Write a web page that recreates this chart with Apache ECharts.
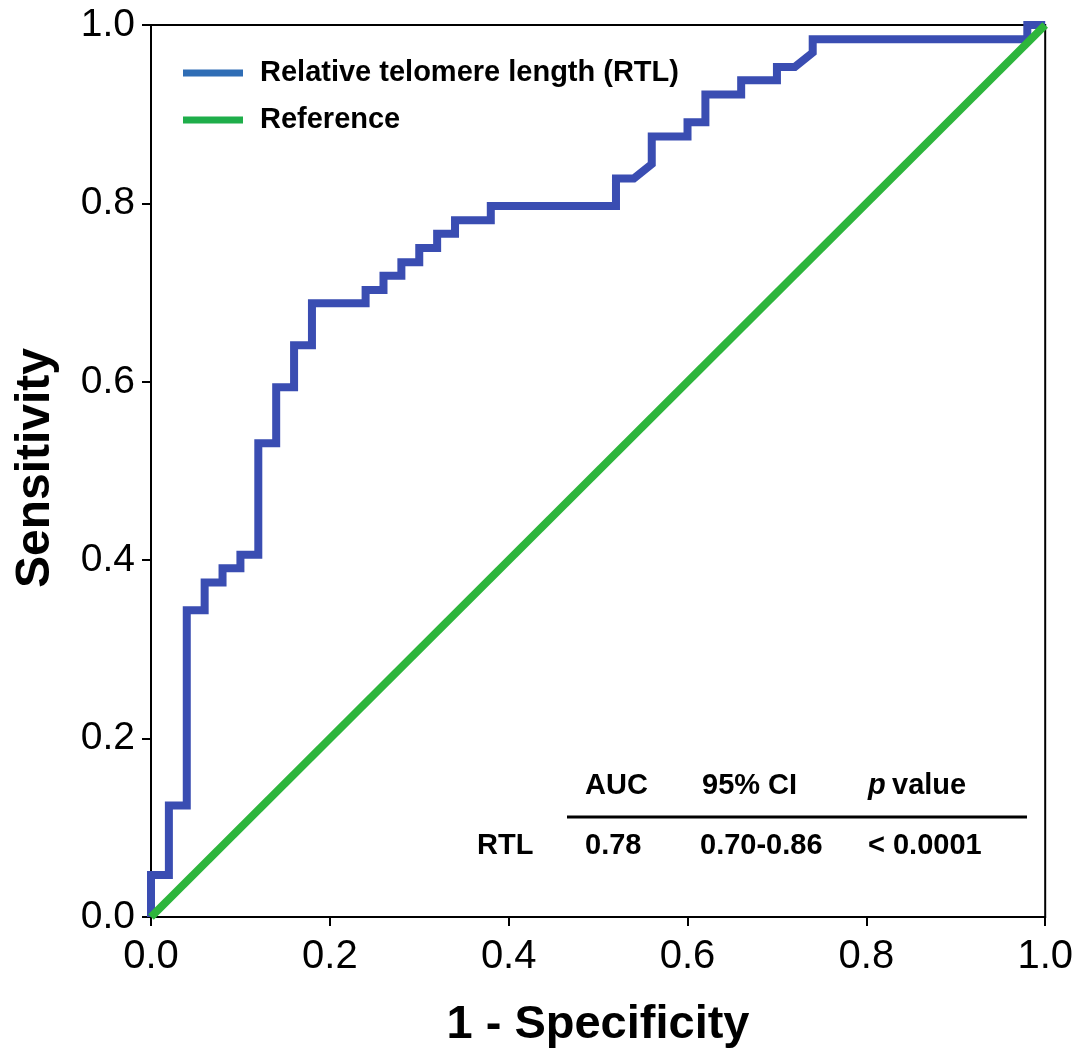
<!DOCTYPE html>
<html>
<head>
<meta charset="utf-8">
<script src="https://cdn.jsdelivr.net/npm/echarts@6/dist/echarts.min.js"></script>
<style>html,body{margin:0;padding:0;background:#fff}#c{width:1076px;height:1051px}</style>
</head>
<body>
<div id="c"></div>
<script>
// ROC curve: 1 - specificity (x) and sensitivity (y)
var rtlFpr = [0, 0, 0.02, 0.02, 0.04, 0.04, 0.06, 0.06, 0.08, 0.08, 0.10, 0.10, 0.12, 0.12, 0.14, 0.14, 0.16, 0.16, 0.18, 0.18, 0.24, 0.24, 0.26, 0.26, 0.28, 0.28, 0.30, 0.30, 0.32, 0.32, 0.34, 0.34, 0.38, 0.38, 0.52, 0.52, 0.54, 0.56, 0.56, 0.60, 0.60, 0.62, 0.62, 0.66, 0.66, 0.70, 0.70, 0.72, 0.74, 0.74, 0.98, 0.98, 1.0];
var rtlTpr = [0, 0.047, 0.047, 0.125, 0.125, 0.344, 0.344, 0.375, 0.375, 0.391, 0.391, 0.406, 0.406, 0.531, 0.531, 0.594, 0.594, 0.641, 0.641, 0.688, 0.688, 0.703, 0.703, 0.719, 0.719, 0.734, 0.734, 0.750, 0.750, 0.766, 0.766, 0.781, 0.781, 0.797, 0.797, 0.828, 0.828, 0.844, 0.875, 0.875, 0.891, 0.891, 0.922, 0.922, 0.938, 0.938, 0.953, 0.953, 0.969, 0.984, 0.984, 1.0, 1.0];
var refX = [0, 1];
var refY = [0, 1];
var xTicks = [0, 0.2, 0.4, 0.6, 0.8, 1.0];
var seriesNames = ['Relative telomere length (RTL)', 'Reference'];
var tableHeader = ['AUC', '95% CI', 'value'];
var tableRow = ['RTL', '0.78', '0.70-0.86', '< 0.0001'];

var FONT = 'Liberation Sans, Arial, sans-serif';
var chart = echarts.init(document.getElementById('c'));

function pairs(xs, ys) { return xs.map(function (x, i) { return [x, ys[i]]; }); }

var txtStyle = function (t, x, y, extra) {
  var s = { text: t, x: x, y: y, fill: '#000', font: 'bold 29px ' + FONT, textVerticalAlign: 'middle' };
  for (var k in extra) s[k] = extra[k];
  return { type: 'text', style: s, z: 10 };
};

chart.setOption({
  animation: false,
  backgroundColor: '#fff',
  grid: { left: 151, right: 30, top: 25, bottom: 134, show: true, borderColor: '#000', borderWidth: 2, backgroundColor: 'transparent' },
  legend: {
    left: 178, top: 53, orient: 'vertical', itemWidth: 60, itemHeight: 7, itemGap: 17,
    icon: 'rect',
    textStyle: { fontFamily: FONT, fontWeight: 'bold', fontSize: 29, color: '#000', lineHeight: 30, padding: [0, 0, 0, 12] },
    data: [
      { name: seriesNames[0], itemStyle: { color: '#2f6db5' } },
      { name: seriesNames[1], itemStyle: { color: '#1fae4a' } }
    ]
  },
  xAxis: {
    type: 'value', min: 0, max: 1, interval: 0.2,
    axisLine: { show: true, lineStyle: { color: '#000', width: 2 } },
    axisTick: { show: true, length: 9, lineStyle: { color: '#000', width: 2 } },
    splitLine: { show: false },
    axisLabel: { fontFamily: FONT, fontSize: 40, color: '#000', margin: 20, formatter: function (v) { return v.toFixed(1); } }
  },
  yAxis: {
    type: 'value', min: 0, max: 1, interval: 0.2,
    axisLine: { show: true, lineStyle: { color: '#000', width: 2 } },
    axisTick: { show: true, length: 9, lineStyle: { color: '#000', width: 2 } },
    splitLine: { show: false },
    axisLabel: { fontFamily: FONT, fontSize: 39, color: '#000', margin: 16, formatter: function (v) { return v.toFixed(1); } }
  },
  series: [
    {
      name: seriesNames[0], type: 'line', data: pairs(rtlFpr, rtlTpr), showSymbol: false, symbol: 'none', clip: false,
      lineStyle: { color: '#3a4db2', width: 8, join: 'miter' }, itemStyle: { color: '#2f6db5' }, z: 3
    },
    {
      name: seriesNames[1], type: 'line', data: pairs(refX, refY), showSymbol: false, symbol: 'none', clip: false,
      lineStyle: { color: '#2db53c', width: 8 }, itemStyle: { color: '#1fae4a' }, z: 4
    }
  ],
  graphic: [
    { type: 'text', x: 36, y: 468, rotation: Math.PI / 2, z: 10,
      style: { text: 'Sensitivity', font: 'bold 48px ' + FONT, fill: '#000', textAlign: 'center', textVerticalAlign: 'middle' } },
    { type: 'text', x: 598, y: 1025, z: 10,
      style: { text: '1 - Specificity', font: 'bold 47px ' + FONT, fill: '#000', textAlign: 'center', textVerticalAlign: 'middle' } },
    txtStyle(tableHeader[0], 585, 786),
    txtStyle(tableHeader[1], 702, 786),
    txtStyle('p', 868, 786, { font: 'bold italic 29px ' + FONT }),
    txtStyle(tableHeader[2], 892, 786),
    { type: 'line', shape: { x1: 567, y1: 817, x2: 1027, y2: 817 }, style: { stroke: '#000', lineWidth: 3 }, z: 10 },
    txtStyle(tableRow[0], 477, 846),
    txtStyle(tableRow[1], 585, 846),
    txtStyle(tableRow[2], 700, 846),
    txtStyle(tableRow[3], 868, 846)
  ]
});
</script>
</body>
</html>
